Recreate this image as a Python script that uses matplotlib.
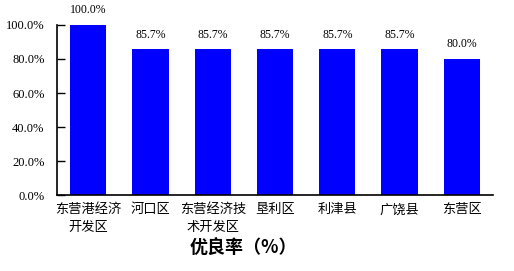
import matplotlib
matplotlib.use('Agg')
import matplotlib.pyplot as plt
from matplotlib.ticker import FuncFormatter

# data
districts = ['东营港经济\n开发区', '河口区', '东营经济技\n术开发区', '垦利区', '利津县', '广饶县', '东营区']
rates = [100.0, 85.7, 85.7, 85.7, 85.7, 85.7, 80.0]
yticks = [0, 20, 40, 60, 80, 100]

plt.rcParams['font.family'] = ['Noto Sans CJK SC', 'DejaVu Sans']

fig = plt.figure(figsize=(5.14, 2.71), dpi=100)
ax = fig.add_axes([0.111, 0.280, 0.848, 0.628])

x = range(len(districts))
ax.bar(x, rates, width=0.58, color='#0000FF', zorder=2)

for i, v in zip(x, rates):
    ax.text(i, v + 5, f'{v:.1f}%', ha='center', va='bottom', fontsize=8.5,
            family='Liberation Serif')

ax.set_xlim(-0.5, len(districts) - 0.5)
ax.set_ylim(0, 100)
ax.set_yticks(yticks)
ax.yaxis.set_major_formatter(FuncFormatter(lambda v, p: f'{v:.1f}%'))
for lab in ax.get_yticklabels():
    lab.set_family('Liberation Serif')
    lab.set_fontsize(9)
ax.tick_params(axis='y', direction='in', length=6, width=1, pad=9)

ax.set_xticks(list(x))
ax.set_xticklabels(districts, fontsize=9.5, linespacing=1.4)
ax.tick_params(axis='x', length=0, pad=6)

ax.spines['top'].set_visible(False)
ax.spines['right'].set_visible(False)
ax.spines['left'].set_linewidth(1.2)
ax.spines['bottom'].set_linewidth(1.2)

fig.text(0.473, 0.088, '优良率（%）', ha='center', va='center', fontsize=13,
         fontweight='bold')

fig.savefig('out.png', dpi=100)
